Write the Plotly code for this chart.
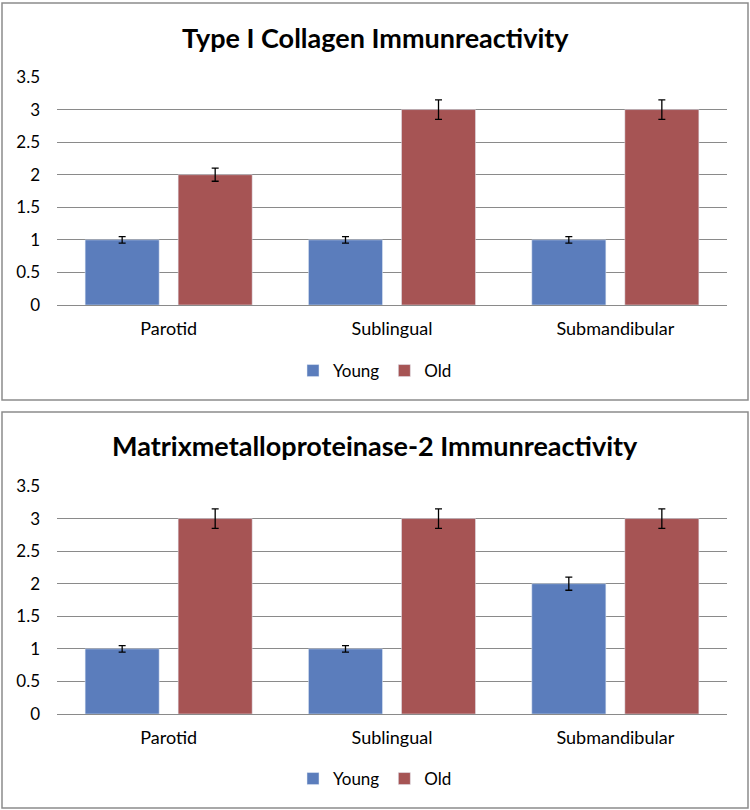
import plotly.graph_objects as go

categories = ["Parotid", "Sublingual", "Submandibular"]
col_young = [1, 1, 1]
col_old = [2, 3, 3]
col_young_err = [0.05, 0.05, 0.05]
col_old_err = [0.1, 0.15, 0.15]
mmp_young = [1, 1, 2]
mmp_old = [3, 3, 3]
mmp_young_err = [0.05, 0.05, 0.1]
mmp_old_err = [0.15, 0.15, 0.15]
titles = ["Type I Collagen Immunreactivity", "Matrixmetalloproteinase-2 Immunreactivity"]
y_ticks = [0, 0.5, 1, 1.5, 2, 2.5, 3, 3.5]
y_tick_text = ["0", "0.5", "1", "1.5", "2", "2.5", "3", "3.5"]

BLUE = "#5B7DBC"
RED = "#A65454"
FONT = "Lato"
W, H = 750, 810

def py(pix):
    return 1 - pix / H

fig = go.Figure()

panels = [
    (col_young, col_old, col_young_err, col_old_err, "x", "y", "legend", 37),
    (mmp_young, mmp_old, mmp_young_err, mmp_old_err, "x2", "y2", "legend2", 445),
]

for i, (yv, ov, ye, oe, xa, ya, lg, ty) in enumerate(panels):
    fig.add_trace(go.Bar(x=categories, y=yv, name="Young", marker_color=BLUE,
                         error_y=dict(type="data", array=ye, color="black", thickness=1.3, width=3.5),
                         xaxis=xa, yaxis=ya, legend=lg))
    fig.add_trace(go.Bar(x=categories, y=ov, name="Old", marker_color=RED,
                         error_y=dict(type="data", array=oe, color="black", thickness=1.3, width=3.5),
                         xaxis=xa, yaxis=ya, legend=lg))
    fig.add_annotation(text="<b>" + titles[i] + "</b>", xref="paper", yref="paper",
                       x=0.5, y=py(ty), xanchor="center", yanchor="middle", showarrow=False,
                       font=dict(size=27, color="black", family=FONT))

common_x = dict(type="category", showgrid=False, showline=True, linecolor="#8a8a8a", linewidth=1.3,
                ticks="", tickfont=dict(size=18, color="black", family=FONT), ticklabelstandoff=7,
                domain=[57 / W, 727 / W], fixedrange=True, automargin=False)
common_y = dict(range=[0, 3.5], tickvals=y_ticks, ticktext=y_tick_text, showgrid=True,
                gridcolor="#8a8a8a", gridwidth=1.3, zeroline=False, showline=False, ticks="",
                tickfont=dict(size=17, color="black", family=FONT), ticklabelstandoff=16,
                automargin=False, fixedrange=True)

fig.update_layout(
    width=W, height=H,
    margin=dict(l=0, r=0, t=0, b=0, autoexpand=False),
    paper_bgcolor="white", plot_bgcolor="white",
    barmode="group", bargap=0.167, bargroupgap=0.204,
    font=dict(family=FONT, color="black"),
    xaxis=dict(common_x, anchor="y"),
    yaxis=dict(common_y, domain=[py(305), py(77)], anchor="x"),
    xaxis2=dict(common_x, anchor="y2"),
    yaxis2=dict(common_y, domain=[py(714), py(486)], anchor="x2"),
    legend=dict(orientation="h", x=0.5, y=py(371), xanchor="center", yanchor="middle",
                font=dict(size=17, family=FONT), itemwidth=30, bgcolor="rgba(0,0,0,0)"),
    legend2=dict(orientation="h", x=0.5, y=py(779), xanchor="center", yanchor="middle",
                 font=dict(size=17, family=FONT), itemwidth=30, bgcolor="rgba(0,0,0,0)"),
    shapes=[
        dict(type="rect", xref="paper", yref="paper", x0=2 / W, x1=748 / W, y0=py(400), y1=py(3),
             line=dict(color="#8c8c8c", width=1.5)),
        dict(type="rect", xref="paper", yref="paper", x0=2 / W, x1=748 / W, y0=py(808), y1=py(412),
             line=dict(color="#8c8c8c", width=1.5)),
    ],
)

fig.write_html("out.html", config={"displayModeBar": False},
               post_script="document.body.style.margin='0';document.body.style.overflow='hidden';")
